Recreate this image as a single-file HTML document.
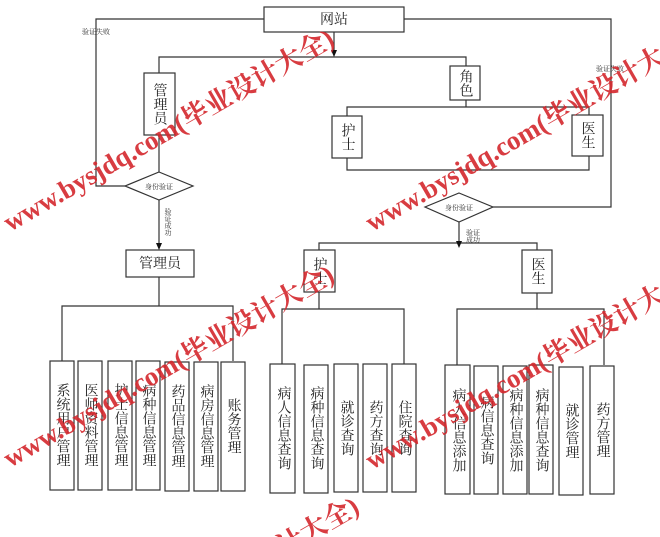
<!DOCTYPE html>
<html><head><meta charset="utf-8"><style>
html,body{margin:0;padding:0;background:#fff;width:660px;height:537px;overflow:hidden}
svg{display:block}
svg text{font-family:"Liberation Serif","Noto Serif CJK SC",serif}
</style></head><body>
<svg width="660" height="537" viewBox="0 0 660 537" xmlns="http://www.w3.org/2000/svg" overflow="hidden">
<g fill="#fff" stroke="#333" stroke-width="1.2">
<rect x="264" y="7" width="140" height="25"/>
<rect x="144" y="73" width="31" height="62"/>
<rect x="450" y="66" width="30" height="34"/>
<rect x="332" y="116" width="30" height="42"/>
<rect x="572" y="115" width="31" height="41"/>
<rect x="126" y="250" width="68" height="27"/>
<rect x="304" y="250" width="31" height="42"/>
<rect x="522" y="250" width="30" height="43"/>
</g>
<g fill="none" stroke="#333" stroke-width="1.2">
<polyline points="264,19 96,19 96,186 125,186"/>
<polyline points="404,19 611,19 611,207 493,207"/>
<line x1="334" y1="32" x2="334" y2="52"/>
<polyline points="159,73 159,57 466,57 466,66"/>
<line x1="466" y1="100" x2="466" y2="107"/>
<polyline points="347,116 347,107 589,107 589,115"/>
<polyline points="347,158 347,170 589,170 589,156"/>
<polygon points="159,172 193,186 159,200 125,186" fill="#fff"/>
<polygon points="459,193 493,207 459,222 425,207" fill="#fff"/>
<line x1="159" y1="135" x2="159" y2="172"/>
<line x1="159" y1="200" x2="159" y2="243"/>
<line x1="459" y1="222" x2="459" y2="243"/>
<polyline points="319,250 319,243 537,243 537,250"/>
<line x1="159" y1="277" x2="159" y2="306"/>
<polyline points="62,361 62,306 233,306 233,361"/>
<line x1="319" y1="292" x2="319" y2="309"/>
<polyline points="282,364 282,309 404,309 404,364"/>
<line x1="537" y1="293" x2="537" y2="309"/>
<polyline points="457,365 457,309 604,309 604,365"/>
</g>
<g fill="#111">
<polygon points="331,50 337,50 334,57"/>
<polygon points="156,243 162,243 159,250"/>
<polygon points="456,241 462,241 459,248"/>
</g>
<g fill="#fff" stroke="#333" stroke-width="1.2">
<rect x="50" y="361" width="24" height="129"/><rect x="78" y="361" width="24" height="129"/>
<rect x="108" y="361" width="24" height="129"/><rect x="136" y="361" width="24" height="129"/>
<rect x="165" y="362" width="24" height="129"/><rect x="194" y="362" width="24" height="129"/>
<rect x="221" y="362" width="24" height="129"/>
<rect x="270" y="364" width="25" height="129"/><rect x="304" y="365" width="24" height="128"/>
<rect x="334" y="364" width="24" height="128"/><rect x="363" y="364" width="24" height="128"/>
<rect x="392" y="364" width="24" height="128"/>
<rect x="445" y="365" width="25" height="129"/><rect x="474" y="366" width="24" height="128"/>
<rect x="503" y="366" width="24" height="128"/><rect x="529" y="365" width="24" height="129"/>
<rect x="559" y="367" width="24" height="128"/><rect x="590" y="366" width="24" height="128"/>
</g>
<g font-size="14" fill="#222" text-anchor="middle">
<text x="334" y="24">网站</text>
<text x="160" y="268">管理员</text>
</g>
<g font-size="14" fill="#222" text-anchor="middle" style="writing-mode:vertical-rl">
<text x="159" y="104">管理员</text>
<text x="465" y="83">角色</text>
<text x="347" y="137">护士</text>
<text x="587" y="135">医生</text>
<text x="319" y="271">护士</text>
<text x="537" y="271">医生</text>
<text x="62" y="425">系统用户管理</text><text x="90" y="425">医师资料管理</text>
<text x="120" y="425">护士信息管理</text><text x="148" y="425">病种信息管理</text>
<text x="177" y="426">药品信息管理</text><text x="206" y="426">病房信息管理</text>
<text x="233" y="426">账务管理</text>
<text x="283" y="428">病人信息查询</text><text x="316" y="428">病种信息查询</text>
<text x="346" y="428">就诊查询</text><text x="375" y="428">药方查询</text>
<text x="404" y="428">住院查询</text>
<text x="458" y="430">病人信息添加</text><text x="486" y="430">病信息查询</text>
<text x="515" y="430">病种信息添加</text><text x="541" y="430">病种信息查询</text>
<text x="571" y="431">就诊管理</text><text x="602" y="430">药方管理</text>
</g>
<g font-size="7" fill="#333" text-anchor="middle">
<text x="159" y="189">身份验证</text>
<text x="459" y="210">身份验证</text>
<text x="96" y="34">验证失败</text>
<text x="610" y="71">验证失败</text>
<text x="473" y="235">验证</text><text x="473" y="242">成功</text>
</g>
<text x="168" y="208" font-size="7" fill="#333" style="writing-mode:vertical-rl">验证成功</text>
<g fill="#d4262c" font-family="Liberation Sans,'Noto Sans CJK SC',sans-serif" font-size="27" font-weight="bold" opacity="0.9">
<text transform="translate(10,232) rotate(-30)">www.bysjdq.com(毕业设计大全)</text>
<text transform="translate(372,232) rotate(-30)">www.bysjdq.com(毕业设计大全)</text>
<text transform="translate(10,468) rotate(-30)">www.bysjdq.com(毕业设计大全)</text>
<text transform="translate(372,470) rotate(-30)">www.bysjdq.com(毕业设计大全)</text>
<text transform="translate(35,700) rotate(-30)">www.bysjdq.com(毕业设计大全)</text>
</g>
</svg>
</body></html>
